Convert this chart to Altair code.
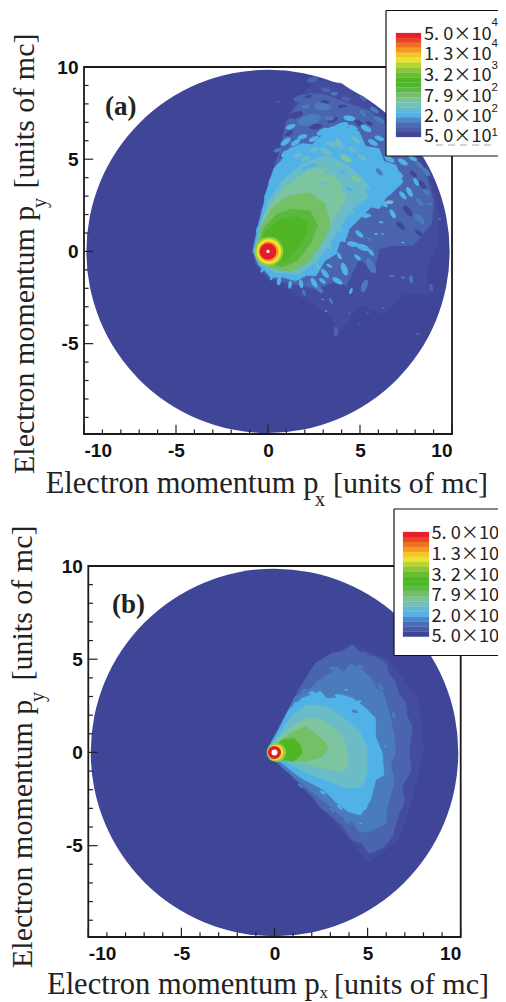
import altair as alt
import pandas as pd

W, H = 490, 994
# ---------- colours ----------
BG = "#3F4597"; FAINT = "#434C9E"; MID0 = "#4A64AD"; MID = "#4A7CBC"; LIGHT = "#50B2E6"
TEAL = "#6CBCC8"; PALE = "#7DC4A0"; G1 = "#74C066"; G2 = "#5AB93A"; G3 = "#4FB725"
LEVELS = {"D": BG, "M": MID0, "N": MID, "L": LIGHT, "T": TEAL, "P": PALE}
bar_colors = ["#E5202A", "#E8452A", "#EF7023", "#F39A20", "#F6C52A", "#E8E52C", "#B7D334", "#8CC63F", "#6ABD2F",
              "#4FB725", "#4FB82A", "#5CB94A", "#75BE6A", "#7DC398", "#74C0B8", "#63BAD0", "#52B2E6", "#4A8CCB",
              "#4C6DB5", "#485AA8", "#3F4596"]
mantissas = ["5. 0×10", "1. 3×10", "3. 2×10", "7. 9×10", "2. 0×10", "5. 0×10"]
exponents = ["4", "4", "3", "2", "2", "1"]
tick_major = [-10, -5, 0, 5, 10]
tick_all = list(range(-10, 11))

# ---------- panel (a) contour bands, momentum units ----------
a_faint = [(-.9,.02),(-.4,2.2),(.1,4),(.6,5.5),(.9,7),(1.6,8.3),(2.6,9.3),(4,9.1),(5.6,8),(7,6.6),(8.2,5),(8.9,3.6),(9.3,2),(9.3,.6),(8.6,-1),(8.8,-2.4),(7.4,-2.3),(6.3,-3.4),(5,-2.9),(3.9,-4.4),(3.3,-3.4),(2,-2.6),(.8,-1.9),(-.1,-1.5),(-.7,-.7)]
a_mid = [(-.82,.02),(-.31,2.13),(.05,3.76),(.51,5.04),(.78,5.95),(.93,6.76),(1.15,7.4),(1.69,8.04),(2.24,8.58),(3.15,8.49),(4.05,8.13),(5.6,7.6),(7,6.2),(8,5.2),(8.6,4.2),(9,2.7),(8.9,1.5),(7.87,.31),(6.78,.31),(6.05,.13),(5.78,-.96),(4.96,-.42),(4.24,-1.87),(3.69,-1.6),(2.6,-2.05),(1.87,-1.87),(.96,-1.69),(.05,-1.42),(-.67,-.6)]
a_light = [(-.82,.02),(-.49,1.58),(-.22,2.58),(-.13,3.13),(.33,4.49),(.7,4.9),(1.15,5.58),(1.87,5.85),(2.4,5.8),(2.96,6.31),(3.87,6.85),(4.96,6.49),(5.3,5.7),(6.05,5.58),(6.3,4.9),(6.96,4.67),(7.33,3.76),(6.78,3.22),(6.4,2.9),(6.05,2.31),(5.6,2.4),(4.96,1.76),(4.42,1.22),(4.24,.67),(3.9,.5),(3.69,-.15),(3.1,-.5),(2.6,-1.33),(2.1,-1.3),(1.51,-1.6),(.8,-1.4),(.15,-1.42),(-.2,-1.0),(-.49,-.78)]
a_teal = [(-.71,.02),(-.35,1.67),(.05,2.76),(.78,3.85),(1.87,4.76),(3.15,5.22),(4.24,4.76),(5.15,3.95),(5.42,2.95),(4.6,2.31),(3.96,1.4),(3.42,.49),(2.69,-.51),(1.69,-1.24),(.33,-1.15),(-.49,-.6)]
a_pale = [(-.62,.02),(-.22,1.85),(.42,2.95),(1.15,3.67),(2.24,4.4),(3.15,4.49),(3.87,3.76),(4.24,2.85),(3.69,1.95),(3.15,1.04),(2.51,-.15),(1.51,-.91),(.42,-.78),(-.35,-.42)]
a_g1 = [(-.67,.13),(-.35,1.4),(.25,2.4),(1.1,3.0),(2.2,3.2),(3.1,2.6),(3.4,1.4),(2.9,.4),(2.2,-.6),(1.3,-1.1),(.24,-.95),(-.49,-.55)]
a_g2 = [(-.6,.13),(-.2,1.3),(.45,2.0),(1.3,2.3),(2.3,2.2),(2.7,1.4),(2.3,.4),(1.6,-.5),(.8,-.85),(-.2,-.6)]
a_g3 = [(-.5,.13),(-.1,1.1),(.6,1.7),(1.5,1.9),(2.1,1.6),(2.1,.9),(1.6,.1),(1,-.5),(.3,-.65)]

# speckles: px, py, length, angle, level
a_speck_out = [
 (2.42,9.31,.64,-15,"M"),(3.15,8.76,.55,10,"M"),(3.6,8.55,.4,-5,"N"),(1.78,8.31,.82,-15,"M"),(.56,8.13,.2,0,"M"),
 (4.24,8.27,.55,5,"M"),(5.15,8.31,.45,40,"M"),
 (1.51,7.4,.8,-15,"D"),(.96,7.22,.5,-20,"D"),(4.05,7.85,.5,0,"D"),(3.51,7.13,.6,-20,"D"),(4.96,6.95,.6,30,"D"),(5.51,6.95,.4,30,"D"),
 (2.6,6.76,.7,-10,"D"),(4.96,5.58,.6,30,"D"),(5.87,5.22,.5,30,"D"),(1.15,6.4,.5,-30,"D"),(.78,5.22,.4,-40,"D"),(6.05,4.67,.6,40,"D"),
 (7.6,2.2,.7,50,"D"),(8.4,3.6,.6,50,"D"),(7.2,1.4,.6,40,"D"),(7.9,4.2,.5,40,"D"),(6.6,3.6,.6,40,"D"),(8.2,1.0,.5,40,"D"),(3.1,8.1,.5,0,"D"),(2.2,8.4,.4,-10,"D"),
 (2.96,7.85,.9,5,"N"),(2.05,7.85,.45,-10,"N"),(4.24,7.67,.7,0,"M"),(5.78,7.67,.55,30,"N"),(2.24,7.13,1.3,-15,"N"),(3.33,7.22,.55,0,"N"),
 (4.42,7.22,.65,10,"L"),(5.15,7.49,.45,45,"N"),(6.05,7.13,.65,30,"N"),(1.24,6.76,.55,-20,"L"),(5.33,6.67,.65,30,"L"),(.96,5.95,.65,-35,"L"),
 (1.87,6.22,.55,-15,"L"),(6.05,6.13,.55,20,"L"),(.51,5.49,.45,-20,"N"),(7.87,5.04,.5,30,"L"),(8.24,4.67,.5,40,"N"),(7.33,4.85,.6,30,"L"),
 (8.6,4.31,.6,50,"N"),(6.6,4.49,.5,30,"L"),(6.96,3.76,.7,30,"N"),(8.05,3.76,.5,60,"L"),(8.6,3.22,.5,40,"N"),(7.69,3.22,.6,60,"L"),
 (6.78,2.04,.55,60,"L"),(6.15,1.58,.27,0,"L"),(5.87,.95,.22,0,"L"),(6.24,.95,.18,0,"L"),(5.51,.67,.3,40,"N"),(7.33,.49,.18,0,"L"),
 (8.24,2.67,.55,45,"N"),(8.78,2.58,.3,0,"N"),(9.33,1.76,.18,0,"N"),(7.78,-1.51,.45,80,"N"),(6.73,-1.33,.27,0,"N"),(7.33,-1.42,.27,0,"N"),
 (5.24,-1.87,.7,110,"N"),(4.51,-2.15,.36,110,"L"),(3.15,-3.24,.15,0,"L"),(2.96,-2.6,.15,0,"L"),(6.24,-3.05,.15,0,"N"),(5.42,-3.33,.15,0,"N"),
 (3.69,-4.33,.55,90,"M"),(8.15,-4.47,.27,0,"M"),(8.87,-1.96,.45,80,"M"),(4.96,-3.96,.15,0,"M"),(3.78,-1.6,.64,30,"L"),(4.15,-.96,.72,70,"L"),
 (2.96,-1.6,.45,40,"L"),(3.33,-.78,.36,30,"L"),(5.6,-.78,.9,60,"N"),(4.87,-.33,.45,40,"L"),(2.24,-1.78,.27,0,"N"),(1.96,-2.24,.36,70,"N"),
 (2.78,-2.05,.55,45,"N"),(3.42,-2.69,.36,60,"N"),(4.42,-3.33,.15,0,"N"),
 (5.33,1.95,.55,0,"L"),(4.24,1.67,.45,0,"L"),(4.96,.95,.55,40,"L"),(4.6,.4,.64,10,"L"),(5.15,.22,.72,20,"L"),(5.6,-.05,.45,50,"L"),
 (4.05,.67,.45,40,"L"),(3.87,-.24,.45,60,"L"),(6.42,3.13,.55,0,"L"),(7.33,3.04,.55,50,"L"),(6.05,2.49,.55,0,"N"),(8.24,1.76,.72,45,"N"),
 # edge fingers
 (.6,-1.6,.5,100,"L"),(1.2,-1.8,.45,95,"L"),(1.8,-1.75,.5,80,"L"),(2.5,-1.7,.6,60,"L"),(3.1,-1.2,.6,50,"L"),(.2,-1.4,.35,110,"L"),(-.3,-1.0,.35,120,"L"),
 (-.55,1.2,.4,-70,"L"),(-.25,2.2,.4,-70,"L"),(-.1,3.0,.4,-70,"L"),(.2,3.9,.5,-60,"L"),(.55,4.6,.5,-55,"L"),(.9,5.3,.5,-45,"L"),(1.5,5.9,.6,-30,"L"),
 (2.5,6.1,.6,-20,"L"),(3.4,6.6,.6,-30,"L"),(4.6,6.7,.6,20,"L"),(5.7,5.9,.6,30,"L"),(6.6,5,.6,30,"L"),(7.1,4.2,.6,40,"L"),(6.3,2.6,.55,45,"L"),(5.2,2,.55,40,"L"),
]
a_speck_in = [
 (3.87,6.67,1.1,-30,"L"),(2.96,6.49,.7,-30,"L"),(4.78,6.04,.55,40,"T"),(3.87,5.85,.7,60,"T"),(2.78,5.67,.7,-20,"L"),(6.6,2.67,.45,0,"T"),
 (3.15,5.4,.7,30,"T"),(2.6,4.31,.7,-30,"P"),(4.24,5.04,.7,30,"P"),(3.33,4.31,.6,0,"T"),(2.24,3.95,.6,0,"P"),(4.78,3.95,.6,30,"P"),
 (3.69,3.76,.5,0,"P"),(2.42,4.67,.45,-20,"L"),(4.05,4.31,.4,40,"L"),(4.96,4.67,.5,30,"L"),(5.51,4.31,.6,40,"L"),(4.42,3.4,.4,30,"L"),
 (1.33,4.49,.6,-40,"L"),(.6,4.31,.5,-50,"L"),(2.05,5.04,.5,-20,"T"),(5.33,3.58,.5,45,"T"),(5.96,3.58,.7,40,"L"),(6.05,4.31,.5,45,"N"),
 (3.5,5.8,.6,20,"T"),(2.5,5.5,.5,-20,"T"),(1.6,5.2,.5,-30,"T"),(4.6,5.5,.5,30,"T"),(5.1,5.1,.5,30,"T"),(2.0,4.5,.4,-30,"L"),(3.0,3.7,.4,0,"T"),
 (5.0,2.9,.5,40,"T"),(4.5,2.2,.5,40,"T"),(3.9,1.2,.45,50,"T"),(3.3,.3,.4,60,"T"),(2.7,-.8,.4,70,"T"),
]

# ---------- panel (b) contour bands ----------
b_faint = [(0,.13),(1.13,3.19),(2.2,4.8),(4.18,5.79),(6.15,4.98),(7.76,2.83),(8.03,.13),(7.4,-2.56),(6.68,-4.71),(5.07,-5.88),(4,-4.71),(2.56,-2.92),(1.13,-1.48),(0,-.13)]
b_mid0 = [(-.3,.31),(.59,1.93),(1.31,3.37),(2.2,4.8),(3.1,5.34),(3.6,5.4),(4.18,5.79),(4.71,5.25),(5.4,5.15),(5.97,4.8),(6.1,4.3),(6.51,3.73),(6.65,3.2),(7.04,2.65),(7.1,2),(7.4,1.39),(7.22,-.04),(7.35,-.9),(6.86,-1.84),(7,-2.6),(6.68,-3.28),(6.33,-4.53),(5.88,-5.07),(5.07,-5.43),(4.7,-4.9),(4.18,-4.71),(3.6,-3.9),(3.1,-3.46),(2.5,-3),(2.03,-2.38),(.77,-1.12),(-.22,-.22)]
b_mid = [(-.3,.31),(.59,2.02),(1.13,3.01),(1.7,3.2),(2.29,3.82),(3.01,4.26),(3.37,4.53),(3.7,4.3),(4.09,4.8),(4.71,4.44),(5.25,3.9),(5.5,3.4),(5.88,3.19),(6.15,2.11),(6.42,1.03),(6.51,-.04),(6.25,-.6),(6.42,-1.66),(6.06,-2.92),(5.97,-3.82),(5.25,-4.17),(4.53,-4.26),(4.2,-3.7),(3.73,-3.55),(3.01,-2.92),(1.67,-1.84),(.59,-.94),(-.22,-.22)]
b_light = [(-.34,.22),(.23,1.21),(.77,2.29),(1.49,2.92),(2.47,3.28),(2.8,2.9),(3.28,2.92),(3.6,3.1),(4.18,2.92),(4.89,2.38),(5.43,1.84),(5.43,.85),(5.79,-.04),(5.88,-1.21),(5.43,-1.48),(5.16,-2.56),(4.62,-3.37),(4,-3.19),(3.37,-2.74),(2.65,-2.02),(1.31,-1.3),(.41,-.58),(-.22,-.22)]
b_teal = [(-.3,.22),(.32,1.03),(.95,2.02),(1.76,2.56),(2.83,2.47),(3.73,1.84),(4.53,1.21),(4.98,.31),(4.98,-1.12),(4.71,-1.84),(3.82,-1.93),(2.74,-1.48),(1.58,-1.03),(.59,-.49),(-.22,-.19)]
b_pale = [(-.3,.22),(.41,.94),(1.04,1.48),(1.76,1.84),(2.56,1.75),(3.37,1.21),(3.82,.49),(4,-.4),(3.73,-1.03),(3.1,-.94),(2.11,-.76),(1.13,-.49),(.32,-.31)]
b_g1 = [(-.3,.17),(.5,.76),(1.04,1.12),(1.67,1.39),(2.29,.94),(2.92,.31),(2.56,-.22),(1.67,-.49),(.77,-.4),(.05,-.22)]
b_g2 = [(-.27,.13),(.41,.67),(1.04,.76),(1.4,.4),(1.49,-.04),(1.04,-.49),(.23,-.37)]
b_speck_mid = [(3.2,4.5,.5,0,"N"),(4.6,4.6,.45,0,"N"),(5.7,3.5,.45,50,"N"),(6.4,2,.4,80,"N"),(6.4,.3,.35,90,"N"),(6.3,-1.2,.4,90,"N"),(6,-2.4,.45,90,"N"),(5.9,-3.6,.4,60,"N"),(4.9,-4.2,.45,10,"N"),(3.9,-3.7,.4,40,"N"),(3.1,-3.1,.35,40,"N"),(1.4,-1.8,.35,40,"N"),(1.6,3.3,.4,-30,"N"),
               (4.8,5.3,.4,10,"M"),(6,4.6,.35,60,"M"),(7,2.3,.4,80,"M"),(7.2,-1.1,.4,90,"M"),(6.8,-2.9,.35,80,"M")]
b_speck = [(3.84,3.35,.2,0,"L"),(5.93,.32,.13,0,"L"),(4.62,-3.8,.15,0,"L"),(4.3,2.2,.35,20,"N"),(2,3.2,.35,-10,"L"),(3.4,3.05,.35,0,"L"),(4.5,2.7,.35,-30,"L"),(5.4,1.3,.3,90,"L"),(5.7,-.8,.35,80,"L"),(4.9,-2.9,.4,110,"L"),(3.5,-2.95,.35,40,"L"),(2.6,-2.15,.35,30,"L"),(1.1,2.6,.3,-50,"L")]

# core rings: radius, colour, px, py
a_rings = [(.78,"#9CCB3C",.05,0),(.67,"#EEE52C",.05,0),(.54,"#F39A20",.03,0),(.45,"#E31E2A",0,0),(.09,"#FFFFFF",0,0)]
b_rings = [(.52,"#9CCB3C",.1,0),(.41,"#EEE52C",.07,0),(.35,"#E31E2A",0,0),(.16,"#FFFFFF",0,0)]

BLOB = "M -1 0 A 1 0.45 0 1 0 1 0 A 1 0.45 0 1 0 -1 0 Z"
DUMMY = alt.Data(values=[{}])
SERIF = "Liberation Serif"
INK = "#222222"


def txt(s, x, y, size, font=SERIF, angle=0, weight="normal", color=INK):
    return alt.Chart(DUMMY).mark_text(text=s, font=font, fontSize=size, align="left", baseline="alphabetic",
                                      angle=angle, fontWeight=weight, color=color).encode(
        x=alt.value(x - 8), y=alt.value(y - 8))


def panel(xr, yr, k, bands, speck_layers, rings, disc_r):
    xs = alt.Scale(domain=[-10, 10], range=xr, nice=False, zero=False)
    ys = alt.Scale(domain=[-9.9, 10], range=yr, nice=False, zero=False)
    ax_x = alt.Axis(orient="bottom", offset=yr[0] - H, values=tick_major, ticks=False, domain=False, grid=False, title=None,
                    labelFont="Liberation Sans", labelFontWeight="bold", labelFontSize=19, labelColor="#111111",
                    labelPadding=7, labelExpr="'' + datum.value", labelOverlap=False, labelAngle=0)
    ax_y = alt.Axis(orient="left", offset=-xr[0], values=tick_major, ticks=False, domain=False, grid=False, title=None,
                    labelFont="Liberation Sans", labelFontWeight="bold", labelFontSize=19, labelColor="#111111",
                    labelPadding=6, labelExpr="'' + datum.value", labelOverlap=False)
    X = lambda f: alt.X(f, type="quantitative", scale=xs, axis=ax_x)
    Y = lambda f: alt.Y(f, type="quantitative", scale=ys, axis=ax_y)
    layers = []
    disc = pd.DataFrame({"x": [0], "y": [0], "s": [(2 * disc_r * k) ** 2]})
    layers.append(alt.Chart(disc).mark_point(filled=True, shape="circle", opacity=1, strokeWidth=0, fill=BG).encode(
        x=X("x"), y=Y("y"), size=alt.Size("s:Q", scale=None)))
    for item in bands:
        if isinstance(item, str):
            spk = pd.DataFrame(speck_layers[item], columns=["x", "y", "w", "a", "l"])
            spk["s"] = (spk.w * k) ** 2
            spk["c"] = spk.l.map(LEVELS)
            layers.append(alt.Chart(spk).mark_point(filled=True, shape=BLOB, opacity=1, strokeWidth=0).encode(
                x=X("x"), y=Y("y"), size=alt.Size("s:Q", scale=None), angle=alt.Angle("a:Q", scale=None),
                fill=alt.Fill("c:N", scale=None)))
        else:
            pts, col = item
            d = pd.DataFrame(pts, columns=["x", "y"]).reset_index()
            layers.append(alt.Chart(d).mark_line(fill=col, stroke=col, strokeWidth=.6, interpolate="linear-closed").encode(
                x=X("x"), y=Y("y"), order=alt.Order("index:Q")))
    for r, c, px, py in rings:
        d = pd.DataFrame({"x": [px], "y": [py], "s": [(2 * r * k) ** 2]})
        layers.append(alt.Chart(d).mark_point(filled=True, shape="circle", opacity=1, strokeWidth=0, fill=c).encode(
            x=X("x"), y=Y("y"), size=alt.Size("s:Q", scale=None)))
    # inner ticks
    bx = pd.DataFrame({"x": tick_all})
    bx["y"] = -9.9
    bx["y2"] = [-9.9 + (.5 if v % 5 == 0 else .25) for v in tick_all]
    by = pd.DataFrame({"y": [v for v in tick_all if v > -10]})
    by["x"] = -10
    by["x2"] = [-10 + (.5 if v % 5 == 0 else .25) for v in by.y]
    layers.append(alt.Chart(bx).mark_rule(color="#222222", strokeWidth=1.2).encode(
        x=X("x"), y=Y("y"), y2=alt.Y2("y2")))
    layers.append(alt.Chart(by).mark_rule(color="#222222", strokeWidth=1.2).encode(
        x=X("x"), x2=alt.X2("x2"), y=Y("y")))
    fr = pd.DataFrame({"x": [-10], "x2": [10], "y": [-9.9], "y2": [10]})
    layers.append(alt.Chart(fr).mark_rect(fill="transparent", stroke="#1A1A1A", strokeWidth=1.8).encode(
        x=X("x"), x2=alt.X2("x2"), y=Y("y"), y2=alt.Y2("y2")))
    return alt.layer(*layers)


def legend(box_l, box_t, box_b, bar_l, bar_r, bar_t, bar_b, text_x, baselines, exps, size):
    out = []
    base = alt.Chart(DUMMY)
    out.append(base.mark_rect(fill="white", strokeWidth=0).encode(
        x=alt.value(box_l - 8), x2=alt.value(W), y=alt.value(box_t - 8), y2=alt.value(box_b - 8)))
    for (x1, x2, y1, y2) in [(box_l, W + 8, box_t, box_t), (box_l, W + 8, box_b, box_b), (box_l, box_l, box_t, box_b)]:
        out.append(base.mark_rule(color="#111111", strokeWidth=1.2).encode(
            x=alt.value(x1 - 8), x2=alt.value(x2 - 8), y=alt.value(y1 - 8), y2=alt.value(y2 - 8)))
    n = len(bar_colors)
    step = (bar_b - bar_t) / n
    for i, c in enumerate(bar_colors):
        out.append(base.mark_rect(fill=c, stroke=c, strokeWidth=.2).encode(
            x=alt.value(bar_l - 8), x2=alt.value(bar_r - 8),
            y=alt.value(bar_t + i * step - 8), y2=alt.value(bar_t + (i + 1) * step - 8)))
    for m, by in zip(mantissas, baselines):
        out.append(txt(m, text_x, by, size, font="Noto Sans CJK JP"))
    for e, ex_y in exps:
        out.append(txt(e, 491.5, ex_y, 11.5, font="Liberation Sans"))
    return out


a = panel([76, 444], [426, 59], 18.4,
          [(a_faint, FAINT), (a_mid, MID0), "out", (a_light, LIGHT), (a_teal, TEAL), (a_pale, PALE), "in", (a_g1, G1), (a_g2, G2), (a_g3, G3)],
          {"out": a_speck_out, "in": a_speck_in}, a_rings, 9.87)
b = panel([80.3, 452.7], [929, 558], 18.62,
          [(b_faint, FAINT), (b_mid0, MID0), (b_mid, MID), "sm", (b_light, LIGHT), "sp", (b_teal, TEAL), (b_pale, PALE), (b_g1, G1), (b_g2, G3)],
          {"sp": b_speck, "sm": b_speck_mid}, b_rings, 9.87)

ann = [
    txt("(a)", 105, 115, 27, weight="bold"),
    txt("(b)", 112, 613, 27, weight="bold"),
    txt("Electron momentum p", 45.7, 493, 30.5),
    txt("x", 315, 506, 20),
    txt("[units of mc]", 333, 493, 30),
    txt("Electron momentum p", 47, 994, 30.5),
    txt("x", 319.5, 998, 17),
    txt("[units of mc]", 334, 994, 30),
    txt("Electron momentum p", 34, 474, 30, angle=270),
    txt("y", 46, 208, 20, angle=270),
    txt("[units of mc]", 34, 188.5, 30, angle=270),
    txt("Electron momentum p", 32, 968, 30, angle=270),
    txt("y", 44, 702, 20, angle=270),
    txt("[units of mc]", 32, 680.5, 30, angle=270),
]
leg_a = legend(386, 10.5, 156, 396, 421, 33, 137, 424, [39.5, 60, 81, 101.5, 122, 142],
               list(zip(exponents, [26, 47, 69, 91, 112, 136])), 18.2)
leg_b = legend(394, 509, 655.5, 403, 429, 532, 636.7, 431.5, [539, 559.5, 580.5, 601, 621.5, 642], [], 18.2)
dash = alt.Chart(DUMMY).mark_rule(color="#AAAAAA", strokeWidth=1, strokeDash=[7, 5]).encode(
    x=alt.value(428), x2=alt.value(484), y=alt.value(137), y2=alt.value(137))

chart = alt.layer(a, b, *leg_a, dash, *leg_b, *ann).resolve_scale(x="independent", y="independent").properties(
    width=W, height=H, padding=0, autosize=alt.AutoSizeParams(type="none"),
    background="white").configure_view(stroke=None)
chart.save("out.html", embed_options={"renderer": "svg", "actions": False})
